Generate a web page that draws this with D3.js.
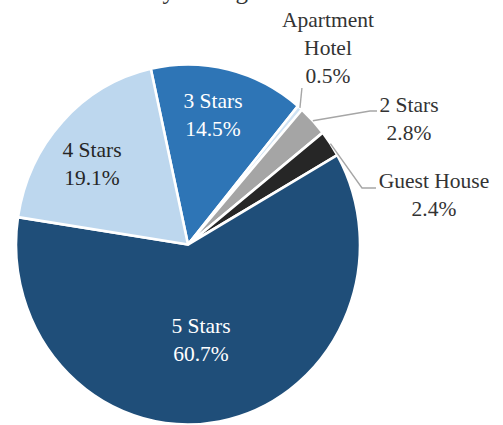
<!DOCTYPE html>
<html>
<head>
<meta charset="utf-8">
<script src="https://cdn.jsdelivr.net/npm/d3@7"></script>
<style>
  body { margin: 0; background: #fff; }
  svg { display: block; }
</style>
</head>
<body>
<div id="chart"></div>
<script>
// data
var categories = ["3 Stars", "Apartment Hotel", "2 Stars", "Guest House", "5 Stars", "4 Stars"];
var shares = [14.5, 0.5, 2.8, 2.4, 60.7, 19.1];
var labelLines = [["3 Stars"], ["Apartment", "Hotel"], ["2 Stars"], ["Guest House"], ["5 Stars"], ["4 Stars"]];
var titleText = "Hotel Rooms by Rating";

var colors = ["#2E75B6", "#CFE2F3", "#A5A5A5", "#262626", "#1F4E79", "#BDD7EE"];
var textColors = ["#fff", "#333", "#333", "#333", "#fff", "#262626"];
// label anchor (x center, first baseline) and leader elbows for outside labels
var labelPos = [[213, 108], [328, 27], [409, 112], [434, 188], [201, 333], [92, 157]];
var leaders = [null, [[302, 88]], [[370, 111], [377, 111]], [[362, 188], [376, 188]], null, null];

var width = 503, height = 425;
var cx = 188, cy = 244.5, rx = 172, ry = 180;
var lineH = 28;

var svg = d3.select("#chart").append("svg")
    .attr("width", width)
    .attr("height", height);

// title sits mostly above the visible area, only descenders show
svg.append("text")
    .attr("x", 248)
    .attr("y", -1)
    .attr("text-anchor", "end")
    .attr("font-family", "Liberation Serif")
    .attr("font-size", "25px")
    .attr("fill", "#333")
    .text(titleText);

var data = categories.map(function(c, i) { return { name: c, value: shares[i], i: i }; });

var startA = -12.5 * Math.PI / 180;
var pie = d3.pie().sort(null).value(function(d) { return d.value; })
    .startAngle(startA).endAngle(startA + 2 * Math.PI);
var arcs = pie(data);

var arc = d3.arc().innerRadius(0).outerRadius(rx);

// slightly taller than wide, like the reference
var g = svg.append("g")
    .attr("transform", "translate(" + cx + "," + cy + ") scale(1," + (ry / rx) + ")");

g.selectAll("path")
    .data(arcs)
    .enter().append("path")
    .attr("d", arc)
    .attr("fill", function(d) { return colors[d.data.i]; })
    .attr("stroke", "#fff")
    .attr("stroke-width", 2.6)
    .attr("stroke-linejoin", "round");

// leader lines
arcs.forEach(function(d) {
  var pts = leaders[d.data.i];
  if (!pts) return;
  var mid = (d.startAngle + d.endAngle) / 2;
  var start = [cx + rx * Math.sin(mid), cy - ry * Math.cos(mid)];
  if (d.data.i == 1) pts = [[start[0] + 2, pts[0][1]]];
  svg.append("path")
      .attr("d", d3.line()([start].concat(pts)))
      .attr("fill", "none")
      .attr("stroke", "#A6A6A6")
      .attr("stroke-width", 1.4);
});

// labels
arcs.forEach(function(d) {
  var i = d.data.i;
  var lines = labelLines[i].concat([d3.format(".1f")(d.data.value) + "%"]);
  var t = svg.append("text")
      .attr("text-anchor", "middle")
      .attr("font-family", "Liberation Serif")
      .attr("font-size", "21.5px")
      .attr("fill", textColors[i]);
  lines.forEach(function(l, k) {
    t.append("tspan")
        .attr("x", labelPos[i][0])
        .attr("y", labelPos[i][1] + k * lineH)
        .text(l);
  });
});
</script>
</body>
</html>
